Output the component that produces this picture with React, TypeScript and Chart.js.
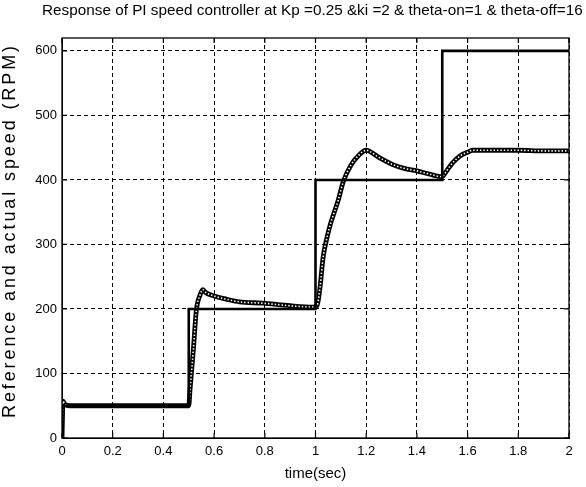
import React, { useEffect, useRef } from "react";
import { Chart, registerables } from "chart.js";

Chart.register(...registerables);

const titleText =
  "Response of PI speed controller at Kp =0.25 &ki =2 & theta-on=1 & theta-off=16";
const xTitle = "time(sec)";
const yTitle = "Reference and actual speed (RPM)";

const xTicks = [0, 0.2, 0.4, 0.6, 0.8, 1, 1.2, 1.4, 1.6, 1.8, 2];
const yTicks = [0, 100, 200, 300, 400, 500, 600];

// Reference speed (step command)
const refTimes = [0, 0, 0.5, 0.5, 1.0, 1.0, 1.5, 1.5, 2.0];
const refSpeeds = [0, 50, 50, 200, 200, 400, 400, 600, 600];

// Actual speed
const actTimes = [
  0, 0.004, 0.012, 0.03, 0.1, 0.2, 0.3, 0.4, 0.5,
  0.505, 0.518, 0.53, 0.545, 0.555, 0.565, 0.6, 0.65, 0.7, 0.79, 0.9, 0.99,
  1.006, 1.018, 1.03, 1.045, 1.06, 1.09, 1.11, 1.14, 1.17, 1.2, 1.21,
  1.25, 1.31, 1.35, 1.4, 1.45, 1.5,
  1.51, 1.54, 1.57, 1.6, 1.62, 1.7, 1.8, 1.9, 2.0,
];
const actSpeeds = [
  0, 57, 52, 50, 50, 50, 50, 50, 50,
  75, 136, 198, 222, 230, 226, 220, 215, 211, 209, 205, 203,
  205, 234, 280, 310, 333, 369, 398, 423, 438, 446, 445,
  435, 423, 418, 414, 409, 405,
  410, 426, 437, 443, 446, 446, 446, 445, 445,
];

const decorations = {
  id: "decorations",
  afterDatasetsDraw(chart: any) {
    const { ctx, chartArea: a, scales } = chart;
    ctx.save();
    ctx.setLineDash([]);
    ctx.strokeStyle = "#000";
    ctx.lineWidth = 1.3;
    ctx.strokeRect(a.left, a.top, a.right - a.left, a.bottom - a.top);
    ctx.lineWidth = 1.2;
    ctx.beginPath();
    for (const v of xTicks) {
      const px = scales.x.getPixelForValue(v);
      ctx.moveTo(px, a.bottom);
      ctx.lineTo(px, a.bottom - 5);
      ctx.moveTo(px, a.top);
      ctx.lineTo(px, a.top + 5);
    }
    for (const v of yTicks) {
      const py = scales.y.getPixelForValue(v);
      ctx.moveTo(a.left, py);
      ctx.lineTo(a.left + 5, py);
      ctx.moveTo(a.right, py);
      ctx.lineTo(a.right - 5, py);
    }
    ctx.stroke();
    ctx.restore();
  },
  afterDraw(chart: any) {
    const { ctx, chartArea: a } = chart;
    ctx.save();
    ctx.fillStyle = "#000";
    ctx.font = "15px 'Liberation Sans', Arial, sans-serif";
    ctx.textAlign = "left";
    ctx.textBaseline = "alphabetic";
    ctx.save();
    ctx.translate(42, 15);
    ctx.scale(1.02, 1);
    ctx.fillText(titleText, 0, 0);
    ctx.restore();

    ctx.translate(14.5, a.bottom - 20);
    ctx.rotate(-Math.PI / 2);
    ctx.font = "18px 'Liberation Sans', Arial, sans-serif";
    (ctx as any).letterSpacing = "2.9px";
    ctx.textAlign = "left";
    ctx.fillText(yTitle, 0, 0);
    ctx.restore();
  },
};

export default function App() {
  const canvasRef = useRef<HTMLCanvasElement | null>(null);

  useEffect(() => {
    const canvas = canvasRef.current;
    if (!canvas) return;
    const refData = refTimes.map((t, i) => ({ x: t, y: refSpeeds[i] }));
    const actData = actTimes.map((t, i) => ({ x: t, y: actSpeeds[i] }));
    const tickFont = { family: "'Liberation Sans', Arial, sans-serif", size: 13 };
    const chart = new Chart(canvas, {
      type: "line",
      data: {
        datasets: [
          {
            label: "Reference",
            data: refData,
            borderColor: "#000",
            borderWidth: 2.6,
            pointRadius: 0,
            tension: 0,
          },
          {
            label: "Actual inner",
            data: actData,
            borderColor: "#fff",
            borderWidth: 1.6,
            borderDash: [1.4, 2],
            pointRadius: 0,
            cubicInterpolationMode: "monotone",
          },
          {
            label: "Actual",
            data: actData,
            borderColor: "#000",
            borderWidth: 4.8,
            pointRadius: 0,
            cubicInterpolationMode: "monotone",
          },
        ],
      },
      options: {
        animation: false,
        responsive: false,
        maintainAspectRatio: false,
        layout: { padding: { top: 38, right: 17, left: 0, bottom: 0 } },
        plugins: {
          legend: { display: false },
          tooltip: { enabled: false },
          title: { display: false },
        },
        scales: {
          x: {
            type: "linear",
            min: 0,
            max: 2,
            ticks: {
              stepSize: 0.2,
              color: "#000",
              font: tickFont,
              padding: 6,
              maxRotation: 0,
              autoSkip: false,
              callback: (v: any) => String(Number(Number(v).toFixed(1))),
            },
            afterBuildTicks: (s: any) => {
              s.ticks = xTicks.map((v) => ({ value: v }));
            },
            grid: { color: "#000", lineWidth: 1, drawTicks: false },
            border: { display: true, color: "#000", width: 1, dash: [4, 3] },
            title: {
              display: true,
              text: xTitle,
              color: "#000",
              font: { family: "'Liberation Sans', Arial, sans-serif", size: 15 },
              padding: { top: 0, bottom: 4 },
            },
            afterFit: (s: any) => {
              s.height = 49;
            },
          },
          y: {
            type: "linear",
            min: 0,
            max: 620,
            ticks: {
              stepSize: 100,
              color: "#000",
              font: tickFont,
              padding: 5,
            },
            afterBuildTicks: (s: any) => {
              s.ticks = yTicks.map((v) => ({ value: v }));
            },
            grid: { color: "#000", lineWidth: 1, drawTicks: false },
            border: { display: true, color: "#000", width: 1, dash: [4, 3] },
            afterFit: (s: any) => {
              s.width = 62;
            },
          },
        },
      },
      plugins: [decorations],
    });
    return () => chart.destroy();
  }, []);

  return (
    <div
      style={{
        position: "fixed",
        left: 0,
        top: 0,
        width: 586,
        height: 487,
        background: "#fff",
        overflow: "hidden",
      }}
    >
      <canvas ref={canvasRef} width={586} height={487} style={{ display: "block" }} />
    </div>
  );
}
